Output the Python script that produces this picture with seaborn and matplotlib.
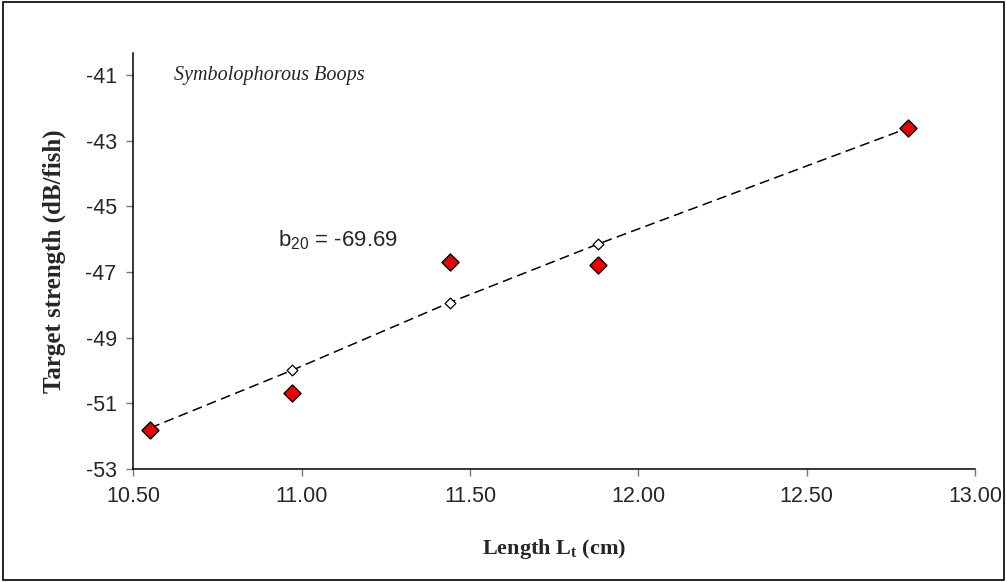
import matplotlib
matplotlib.use("Agg")
import matplotlib.pyplot as plt
import seaborn as sns
import pandas as pd
from matplotlib.patches import Rectangle

# === Données ===
length_cm = [10.55, 10.97, 11.44, 11.88, 12.80]
ts_measured = [-51.80, -50.68, -46.69, -46.79, -42.62]
ts_fitted = [-51.75, -50.00, -47.93, -46.15, -42.62]

x_ticks = [10.5, 11.0, 11.5, 12.0, 12.5, 13.0]
y_ticks = [-53, -51, -49, -47, -45, -43, -41]

species = "Symbolophorous Boops"
b20_label = "b$_{20}$ = -69.69"

df = pd.DataFrame({"length": length_cm, "measured": ts_measured, "fitted": ts_fitted})

# === Figure ===
sns.set_style("ticks")
plt.rcParams["font.family"] = ["Liberation Sans", "DejaVu Sans"]
plt.rcParams["mathtext.fontset"] = "custom"
plt.rcParams["mathtext.rm"] = "Liberation Sans"
plt.rcParams["mathtext.bf"] = "Liberation Serif:bold"

fig = plt.figure(figsize=(10.07, 5.82), dpi=100)
ax = fig.add_axes([0.1324, 0.1942, 0.8358, 0.7147])

# cadre autour de la figure
fig.patches.append(Rectangle((0.003, 0.003), 0.994, 0.994, transform=fig.transFigure,
                             fill=False, edgecolor="black", linewidth=1.2))

# droite ajustée (pointillés) + losanges vides
sns.lineplot(data=df, x="length", y="fitted", ax=ax, color="black", linewidth=1.1,
             dashes=False, zorder=2)
ax.lines[0].set_dashes((6.5, 3.5))
sns.scatterplot(data=df, x="length", y="fitted", ax=ax, marker="D", s=30,
                facecolor="white", edgecolor="black", linewidth=0.9, zorder=3)

# mesures (losanges rouges)
sns.scatterplot(data=df, x="length", y="measured", ax=ax, marker="D", s=75,
                color="#ee0000", edgecolor="black", linewidth=1.0, zorder=4)

ax.set_xlim(10.5, 13.0)
ax.set_ylim(-53, -40.33)
ax.set_xticks(x_ticks)
ax.set_xticklabels([f"{t:.2f}" for t in x_ticks], fontsize=15.5)
ax.set_yticks(y_ticks)
ax.set_yticklabels([str(t) for t in y_ticks], fontsize=15.5)
ax.tick_params(axis="both", direction="out", length=5, width=1, color="#777777", pad=7)

sns.despine(ax=ax)
for side in ["left", "bottom"]:
    ax.spines[side].set_linewidth(1.1)
    ax.spines[side].set_color("black")

ax.set_xlabel("Length L$_\\mathbf{t}$ (cm)", family="Liberation Serif", fontsize=16,
              fontweight="bold", labelpad=22)
ax.set_ylabel("Target strength (dB/fish)", family="Liberation Serif", fontsize=18,
              fontweight="bold", labelpad=14)

ax.text(10.62, -41.0, species, family="Liberation Serif", style="italic", fontsize=14.5,
        va="center", ha="left")
ax.text(10.93, -46.02, b20_label, fontsize=16, va="center", ha="left")

fig.savefig("out.png", dpi=100)
